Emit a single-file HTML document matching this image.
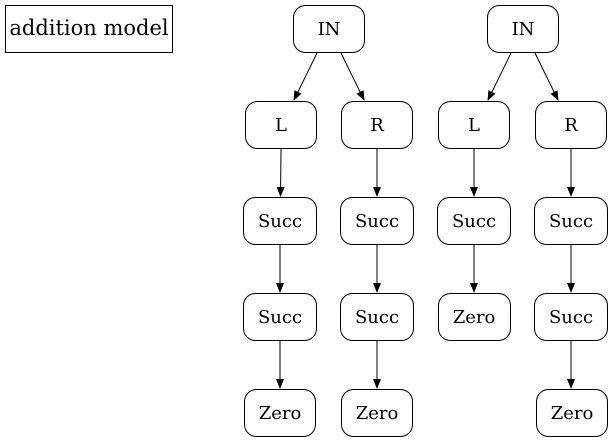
<!DOCTYPE html>
<html><head><meta charset="utf-8"><style>
html,body{margin:0;padding:0;background:#fff;width:614px;height:443px;overflow:hidden}
svg{display:block}
text{font-family:"DejaVu Serif","Liberation Serif",serif;fill:#000}
</style></head><body>
<svg width="614" height="443" viewBox="0 0 614 443" xmlns="http://www.w3.org/2000/svg">
<defs><marker id="a" markerWidth="10" markerHeight="10" refX="9" refY="5" orient="auto" markerUnits="userSpaceOnUse"><path d="M0,1 L10,5 L0,9 z" fill="#000"/></marker></defs>
<rect x="5.5" y="5.5" width="167" height="47" fill="none" stroke="#000"/>
<text x="89" y="35" font-size="21" text-anchor="middle">addition model</text>
<g fill="none" stroke="#000" stroke-width="1">
<rect x="293.5" y="5.5" width="71" height="47" rx="12"/>
<rect x="245.5" y="101.5" width="71" height="47" rx="12"/>
<rect x="341.5" y="101.5" width="71" height="47" rx="12"/>
<rect x="243.5" y="197.5" width="73" height="47" rx="12"/>
<rect x="340.5" y="197.5" width="73" height="47" rx="12"/>
<rect x="243.5" y="293.5" width="73" height="47" rx="12"/>
<rect x="340.5" y="293.5" width="73" height="47" rx="12"/>
<rect x="244.5" y="389.5" width="71" height="47" rx="12"/>
<rect x="341.5" y="389.5" width="71" height="47" rx="12"/>
<rect x="487.5" y="5.5" width="71" height="47" rx="12"/>
<rect x="438.5" y="101.5" width="71" height="47" rx="12"/>
<rect x="535.5" y="101.5" width="71" height="47" rx="12"/>
<rect x="437.5" y="197.5" width="73" height="47" rx="12"/>
<rect x="534.5" y="197.5" width="73" height="47" rx="12"/>
<rect x="438.5" y="293.5" width="72" height="47" rx="12"/>
<rect x="534.5" y="293.5" width="73" height="47" rx="12"/>
<rect x="536.5" y="389.5" width="71" height="47" rx="12"/>
</g>
<g stroke="#000" stroke-width="1" marker-end="url(#a)">
<line x1="317" y1="53" x2="294" y2="100"/>
<line x1="341" y1="53" x2="364" y2="100"/>
<line x1="281" y1="149" x2="280.5" y2="196"/>
<line x1="377" y1="149" x2="377" y2="196"/>
<line x1="280" y1="245" x2="280" y2="292"/>
<line x1="377" y1="245" x2="377" y2="292"/>
<line x1="280" y1="341" x2="280" y2="388"/>
<line x1="377" y1="341" x2="377" y2="388"/>
<line x1="511" y1="53" x2="488" y2="100"/>
<line x1="535" y1="53" x2="558" y2="100"/>
<line x1="474" y1="149" x2="474" y2="196"/>
<line x1="571" y1="149" x2="571" y2="196"/>
<line x1="474" y1="245" x2="474" y2="292"/>
<line x1="571" y1="245" x2="571" y2="292"/>
<line x1="571" y1="341" x2="571" y2="388"/>
</g>
<g font-size="18" text-anchor="middle">
<text x="329" y="35">IN</text>
<text x="281" y="131">L</text>
<text x="377" y="131">R</text>
<text x="280" y="227">Succ</text>
<text x="377" y="227">Succ</text>
<text x="280" y="323">Succ</text>
<text x="377" y="323">Succ</text>
<text x="280" y="419">Zero</text>
<text x="377" y="419">Zero</text>
<text x="523" y="35">IN</text>
<text x="474" y="131">L</text>
<text x="571" y="131">R</text>
<text x="474" y="227">Succ</text>
<text x="571" y="227">Succ</text>
<text x="474" y="323">Zero</text>
<text x="571" y="323">Succ</text>
<text x="572" y="419">Zero</text>
</g>
</svg>
</body></html>
